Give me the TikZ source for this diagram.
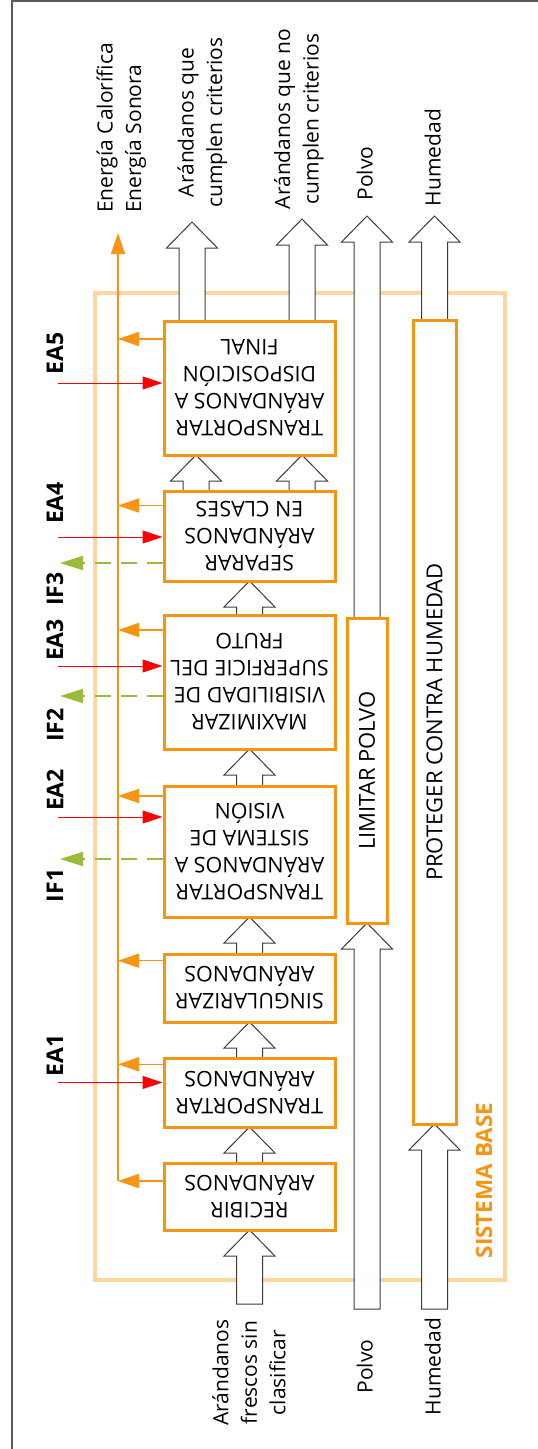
\documentclass[tikz,border=0pt]{standalone}
\usepackage{fontspec}
\setmainfont{Open Sans}
\usetikzlibrary{arrows.meta}
\definecolor{boxor}{RGB}{248,148,20}
\definecolor{frameor}{RGB}{255,214,160}
\definecolor{ifgreen}{RGB}{155,187,59}
\definecolor{outl}{RGB}{60,60,60}
\definecolor{framegray}{RGB}{90,90,90}
\newcommand{\blockarr}[3]{%
  \draw[barrowst] ({#1-13},#2) -- ({#1-13},{#3+26}) -- ({#1-25.5},{#3+26}) -- (#1,#3)
    -- ({#1+25.5},{#3+26}) -- ({#1+13},{#3+26}) -- ({#1+13},#2) -- cycle;}
\begin{document}
\begin{tikzpicture}[x=1pt,y=-1pt,
  pbox/.style={draw=boxor, line width=3pt, fill=white, minimum width=171pt, inner sep=0pt},
  sbox/.style={draw=boxor, line width=3pt, fill=white, inner sep=0pt},
  ptext/.style={rotate=180, align=center, font=\fontsize{21.5}{27}\selectfont, inner sep=0pt},
  vtext/.style={rotate=90, align=center, font=\fontsize{21}{28.5}\selectfont, inner sep=0pt},
  btext/.style={rotate=90, align=center, font=\fontsize{22}{28}\selectfont, inner sep=0pt},
  lbl/.style={rotate=90, font=\bfseries\fontsize{23}{28}\selectfont, inner sep=0pt},
  barrowst/.style={draw=outl, line width=1pt, fill=white, line join=miter},
  earrow/.style={draw=boxor, line width=1.5pt, -{Triangle[length=21pt,width=14pt]}},
  eaarrow/.style={draw=red, line width=1pt, -{Triangle[length=20pt,width=13pt]}},
  ifarrow/.style={draw=ifgreen, line width=2pt, dash pattern=on 16pt off 10pt, -{Triangle[length=23pt,width=14pt]}},
]
\useasboundingbox (0,0) rectangle (538,1449);
\fill[white] (0,0) rectangle (538,1449);
% outer frame
\draw[framegray, line width=1.5pt] (12,1449) -- (12,1) -- (538,1);
% sistema base frame
\draw[frameor, line width=4pt] (95,293) rectangle (505,1280);
\node[rotate=90, font=\bfseries\fontsize{22.5}{26}\selectfont, text=boxor, inner sep=0pt] (sb) at (484,1180.5) {SISTEMA BASE};

% block arrows
\blockarr{249.5}{1304}{1230}
\blockarr{249.5}{1163}{1127}
\blockarr{249.5}{1058}{1022}
\blockarr{249.5}{954}{917}
\blockarr{249.5}{786}{749}
\blockarr{249.5}{615}{581}
\blockarr{196}{491}{455}
\blockarr{302}{491}{455}
\blockarr{192}{321}{222}
\blockarr{302}{321}{219}
\blockarr{367}{1309}{923}
\blockarr{367}{618}{216}
\blockarr{434.5}{1309}{1124}
\blockarr{434.5}{320}{216}

% process boxes
\node[pbox, minimum height=134pt] (b1) at (249.5,388) {};
\node[pbox, minimum height=90pt] (b2) at (249.5,536) {};
\node[pbox, minimum height=134pt] (b3) at (249.5,682) {};
\node[pbox, minimum height=131pt] (b4) at (249.5,851.5) {};
\node[pbox, minimum height=68pt] (b5) at (249.5,988) {};
\node[pbox, minimum height=69pt] (b6) at (249.5,1092.5) {};
\node[pbox, minimum height=67pt] (b7) at (249.5,1196.5) {};
\node[sbox, minimum width=40pt, minimum height=305pt] (bp) at (367,770.5) {};
\node[sbox, minimum width=43pt, minimum height=804pt] (bh) at (434.5,722) {};

\node[ptext] (t1) at (b1.center) {TRANSPORTAR\\ARÁNDANOS A\\DISPOSICIÓN\\FINAL};
\node[ptext] (t2) at (b2.center) {SEPARAR\\ARÁNDANOS\\EN CLASES};
\node[ptext] (t3) at (b3.center) {MAXIMIZAR\\VISIBILIDAD DE\\SUPERFICIE DEL\\FRUTO};
\node[ptext] (t4) at (b4.center) {TRANSPORTAR\\ARÁNDANOS A\\SISTEMA DE\\VISIÓN};
\node[ptext] (t5) at (b5.center) {SINGULARIZAR\\ARÁNDANOS};
\node[ptext] (t6) at (b6.center) {TRANSPORTAR\\ARÁNDANOS};
\node[ptext] (t7) at (b7.center) {RECIBIR\\ARÁNDANOS};
\node[btext] (tp) at (bp.center) {LIMITAR POLVO};
\node[btext] (th) at (bh.center) {PROTEGER CONTRA HUMEDAD};

% energy line
\coordinate (ebot) at (118,1181);
\coordinate (etop) at (118,233);
\draw[earrow] (ebot) -- (etop);
\coordinate (e1) at (118,339);
\coordinate (e2) at (118,505.5);
\coordinate (e3) at (118,630);
\coordinate (e4) at (118,796);
\coordinate (e5) at (118,960.7);
\coordinate (e6) at (118,1064.3);
\draw[earrow] (e1 -| b1.west) -- (e1);
\draw[earrow] (e2 -| b2.west) -- (e2);
\draw[earrow] (e3 -| b3.west) -- (e3);
\draw[earrow] (e4 -| b4.west) -- (e4);
\draw[earrow] (e5 -| b5.west) -- (e5);
\draw[earrow] (e6 -| b6.west) -- (e6);
\draw[earrow] (ebot -| b7.west) -- (ebot);

% EA inputs
\coordinate (ea5) at (58,383);
\coordinate (ea4) at (58,537);
\coordinate (ea3) at (58,666);
\coordinate (ea2) at (58,817);
\coordinate (ea1) at (58,1082.5);
\draw[eaarrow] (ea5) -- (ea5 -| b1.west);
\draw[eaarrow] (ea4) -- (ea4 -| b2.west);
\draw[eaarrow] (ea3) -- (ea3 -| b3.west);
\draw[eaarrow] (ea2) -- (ea2 -| b4.west);
\draw[eaarrow] (ea1) -- (ea1 -| b6.west);

% IF outputs
\coordinate (if3) at (60,563);
\coordinate (if2) at (60,696);
\coordinate (if1) at (60,859);
\draw[ifarrow] (if3 -| b2.west) -- (if3);
\draw[ifarrow] (if2 -| b3.west) -- (if2);
\draw[ifarrow] (if1 -| b4.west) -- (if1);

% side labels
\node[lbl] (lea5) at (55,353.5) {EA5};
\node[lbl] (lea4) at (55,503) {EA4};
\node[lbl] (lif3) at (55,589) {IF3};
\node[lbl] (lea3) at (55,640) {EA3};
\node[lbl] (lif2) at (55,725) {IF2};
\node[lbl] (lea2) at (55,790) {EA2};
\node[lbl] (lif1) at (55,885.5) {IF1};
\node[lbl] (lea1) at (55,1055.6) {EA1};

% top labels
\node[vtext, align=left, anchor=base west] (len) at (141,213) {Energía Calorífica\\Energía Sonora};
\node[vtext, anchor=base] (lok) at (222,122.5) {Arándanos que\\cumplen criterios};
\node[vtext, anchor=base] (lno) at (318.5,119) {Arándanos que no\\cumplen criterios};
\node[vtext, anchor=base] (lpo) at (372.5,173.5) {Polvo};
\node[vtext, anchor=base] (lho) at (440.5,157.5) {Humedad};
% bottom labels
\node[vtext, anchor=base] (lin) at (285.3,1372.5) {Arándanos\\frescos sin\\clasificar};
\node[vtext, anchor=base] (lpi) at (372.5,1366.5) {Polvo};
\node[vtext, anchor=base] (lhi) at (440.5,1366.5) {Humedad};
\end{tikzpicture}
\end{document}
